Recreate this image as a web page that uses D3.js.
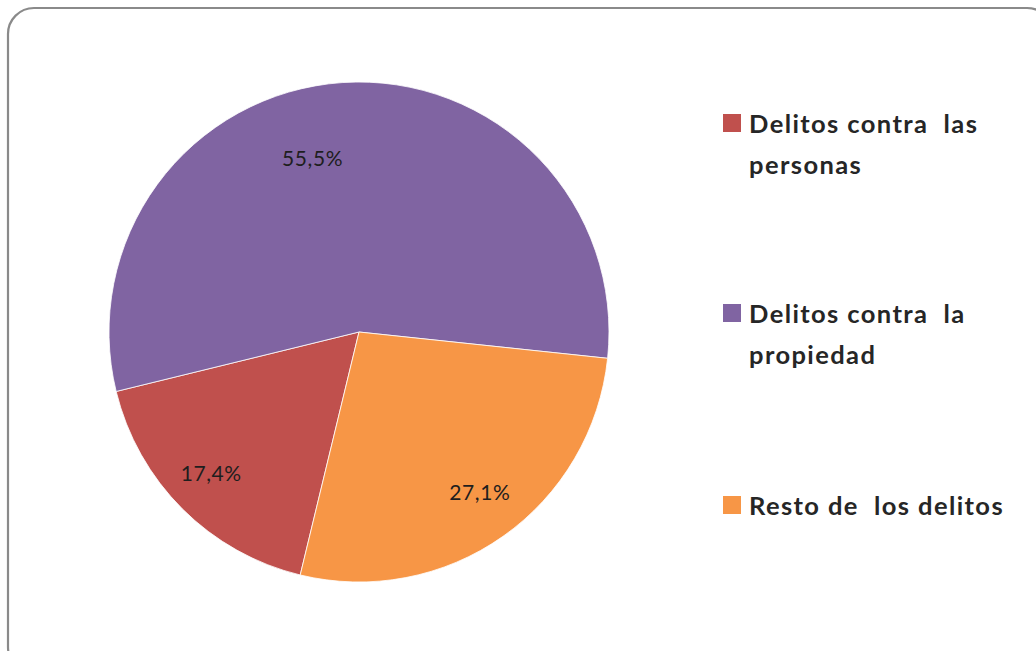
<!DOCTYPE html>
<html>
<head>
<meta charset="utf-8">
<script src="https://cdn.jsdelivr.net/npm/d3@7"></script>
<style>
  body { margin: 0; background: #fff; }
  svg { display: block; }
</style>
</head>
<body>
<div id="chart"></div>
<script>
// data
var categories = ["Delitos contra las personas", "Delitos contra la propiedad", "Resto de los delitos"];
var legendLines = [["Delitos contra  las", "personas"], ["Delitos contra  la", "propiedad"], ["Resto de  los delitos"]];
var values = [17.4, 55.5, 27.1];
var valueLabels = ["17,4%", "55,5%", "27,1%"];
var colors = ["#c0504d", "#8064a2", "#f79646"];

var svgWidth = 1036;
var svgHeight = 651;

var svg = d3.select("#chart")
    .append("svg")
    .attr("width", svgWidth)
    .attr("height", svgHeight);

// frame (runs past the right/bottom edge like the screenshot)
svg.append("rect")
    .attr("x", 8).attr("y", 8)
    .attr("width", 1045).attr("height", 665)
    .attr("rx", 26).attr("ry", 26)
    .attr("fill", "#fff")
    .attr("stroke", "#8a8a8a")
    .attr("stroke-width", 2.2);

var cx = 359, cy = 332, radius = 250;

// first slice (red) starts a bit past 6 o'clock, like the excel chart
var startDeg = 193.6;
var pie = d3.pie()
    .sort(null)
    .value(function(d) { return d; })
    .startAngle(startDeg * Math.PI / 180)
    .endAngle((startDeg + 360) * Math.PI / 180);

var arcs = pie(values);

var arc = d3.arc().innerRadius(0).outerRadius(radius);

var pieGroup = svg.append("g")
    .attr("transform", `translate(${cx}, ${cy})`);

pieGroup.selectAll("path")
    .data(arcs)
    .enter()
    .append("path")
    .attr("d", arc)
    .attr("fill", function(d, i) { return colors[i]; })
    .attr("stroke", "#fff")
    .attr("stroke-width", 0.8);

// label placement: radius and angle nudges (excel "best fit")
var labelRadius = [204, 181, 200];
var labelShift = [1.5, -11, -2]; // degrees

pieGroup.selectAll("text.pct")
    .data(arcs)
    .enter()
    .append("text")
    .attr("class", "pct")
    .attr("x", function(d, i) {
        var a = (d.startAngle + d.endAngle) / 2 + labelShift[i] * Math.PI / 180;
        return Math.sin(a) * labelRadius[i];
    })
    .attr("y", function(d, i) {
        var a = (d.startAngle + d.endAngle) / 2 + labelShift[i] * Math.PI / 180;
        return -Math.cos(a) * labelRadius[i];
    })
    .attr("text-anchor", "middle")
    .attr("dominant-baseline", "central")
    .style("font-family", "Lato, 'Open Sans', sans-serif")
    .style("font-size", "21px")
    .style("letter-spacing", "0.6px")
    .style("fill", "#1e1e1e")
    .text(function(d, i) { return valueLabels[i]; });

// legend
var legendTops = [114, 304, 496];
var legend = svg.append("g");

categories.forEach(function(c, i) {
    var g = legend.append("g")
        .attr("transform", `translate(723, ${legendTops[i]})`);
    g.append("rect")
        .attr("width", 18).attr("height", 18)
        .attr("fill", colors[i]);
    g.selectAll("text")
        .data(legendLines[i])
        .enter()
        .append("text")
        .attr("x", 26)
        .attr("y", function(d, j) { return 19 + j * 41; })
        .style("font-family", "Lato, 'Open Sans', sans-serif")
        .style("font-weight", "bold")
        .style("font-size", "25.5px")
        .style("letter-spacing", "1.4px")
        .style("fill", "#262626")
        .style("white-space", "pre")
        .attr("xml:space", "preserve")
        .text(function(d) { return d; });
});
</script>
</body>
</html>
